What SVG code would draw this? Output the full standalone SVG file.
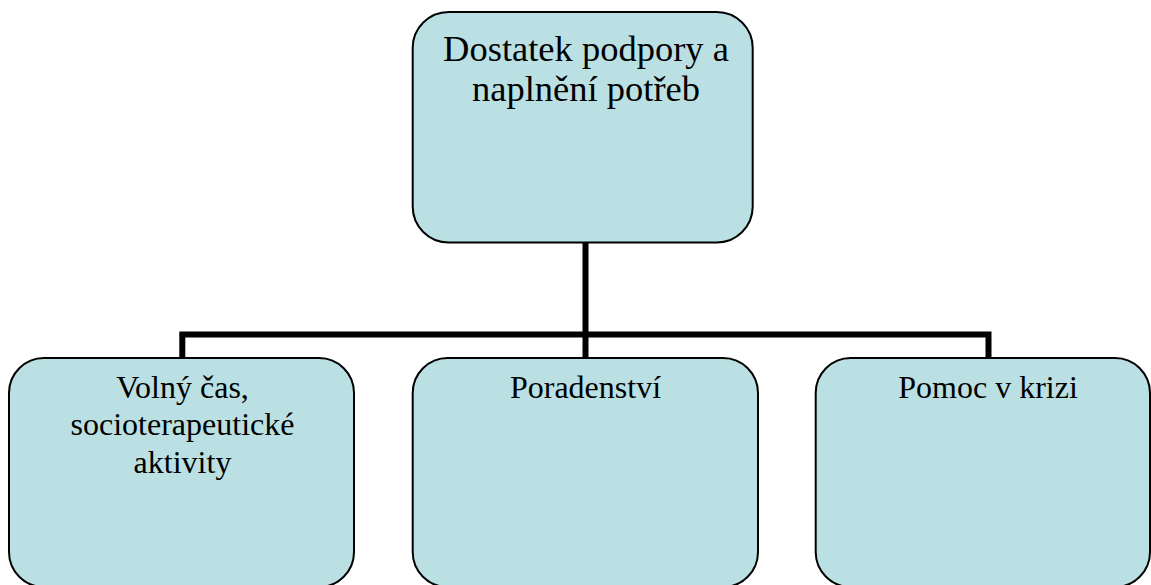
<svg xmlns="http://www.w3.org/2000/svg" width="1151" height="585" viewBox="0 0 1151 585">
  <style>
    .box { fill: #BBE0E3; stroke: #000; stroke-width: 2; }
    .link { fill: none; stroke: #000; stroke-width: 6; stroke-linejoin: miter; }
    .lbl { font-family: "Liberation Serif", "Times New Roman", serif; fill: #000; text-anchor: middle; }
    .top { font-size: 36.5px; }
    .sub { font-size: 32px; }
  </style>
  <rect width="1151" height="585" fill="#fff"/>
  <!-- org-chart connectors -->
  <g id="connectors">
    <path class="link" d="M585.5 242 V334.5"/>
    <path class="link" d="M182.3 358 V334.5 H988.5 V358"/>
    <path class="link" d="M585.5 334.5 V358"/>
  </g>
  <g id="node-root">
    <rect class="box" x="412.7" y="12" width="340" height="230.5" rx="36" ry="36"/>
    <text class="lbl top" x="586" y="61">Dostatek podpory a</text>
    <text class="lbl top" x="586" y="100.5">naplnění potřeb</text>
  </g>
  <g id="node-volny-cas">
    <rect class="box" x="9" y="358" width="345" height="229" rx="35" ry="35"/>
    <text class="lbl sub" x="182.5" y="398">Volný čas,</text>
    <text class="lbl sub" x="182.5" y="435">socioterapeutické</text>
    <text class="lbl sub" x="182.5" y="472.5">aktivity</text>
  </g>
  <g id="node-poradenstvi">
    <rect class="box" x="412.7" y="358" width="345.3" height="229" rx="35" ry="35"/>
    <text class="lbl sub" x="585.5" y="398">Poradenství</text>
  </g>
  <g id="node-pomoc">
    <rect class="box" x="815.7" y="358" width="334.3" height="229" rx="35" ry="35"/>
    <text class="lbl sub" x="988" y="398">Pomoc v krizi</text>
  </g>
</svg>
